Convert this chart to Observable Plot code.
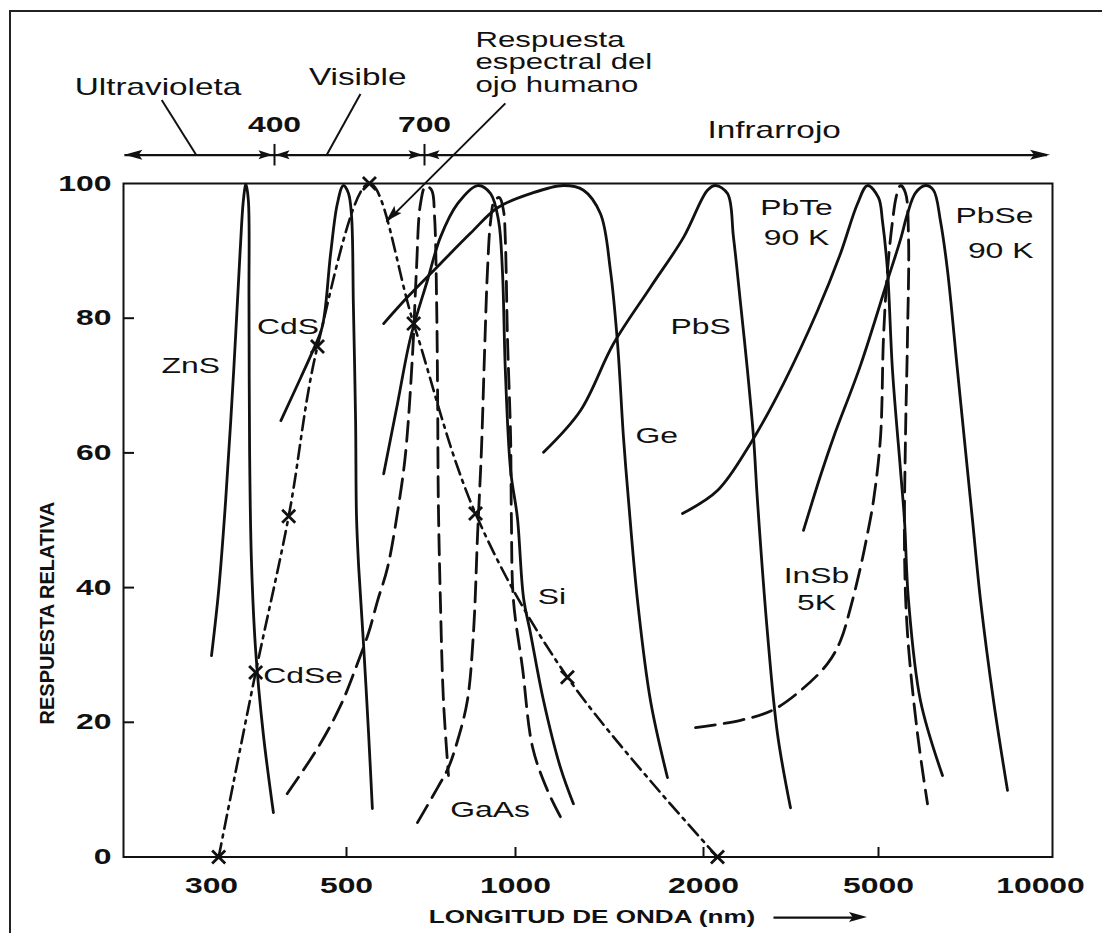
<!DOCTYPE html>
<html>
<head>
<meta charset="utf-8">
<script src="https://cdn.jsdelivr.net/npm/d3@7"></script>
<script src="https://cdn.jsdelivr.net/npm/@observablehq/plot@0.6"></script>
<style>
  html, body { margin: 0; padding: 0; background: #fff; }
  #wrap { position: relative; width: 1102px; height: 933px; overflow: hidden; background: #fff; }
  #border { position: absolute; left: 9px; top: 10px; width: 1200px; height: 1000px;
            border-left: 2px solid #222; border-top: 2px solid #222; }
  #wrap svg { position: absolute; left: 0; top: 0; }
</style>
</head>
<body>
<div id="wrap"><div id="border"></div></div>
<script>
// ---- axis definitions (wavelength in nm, relative response in %) ----
const xAnchors   = [300, 400, 500, 700, 1000, 2000, 5000, 10000];
const xPixels    = [211, 274, 346, 424, 515, 703, 878, 1040];
const xTickLabels = [300, 500, 1000, 2000, 5000, 10000];
const xTickMarks  = [500, 1000, 2000, 5000];
const yTickLabels = [0, 20, 40, 60, 80, 100];
const yTickMarks  = [20, 40, 60, 80];

// ---- detector spectral responses: [wavelength nm, relative response %] ----
const ZnS  = [[300,29.9],[310,39.6],[320,52.9],[332,72.2],[342,90.1],[347,97.5],[351,99.9],[355,97.5],[356,82.6],[357,60.4],[360,44.0],[367,30.7],[380,18.3],[398,6.6]];
const CdS  = [[408,64.8],[434,71.2],[451,75.3],[464,78.8],[476,89.6],[486,97.0],[495,99.7],[504,98.6],[511,95.2],[515,82.2],[520,64.8],[522,50.7],[527,43.0],[538,31.7],[550,18.3],[559,7.2]];
const CdSe = [[416,9.4],[458,16.3],[491,22.5],[524,28.7],[550,33.3],[572,38.1],[597,43.0],[626,52.2],[645,59.9],[665,74.8],[676,87.1],[688,97.0],[703,99.6],[720,99.0],[728,95.2],[734,82.6],[737,67.8],[739,52.9],[745,38.1],[754,23.2],[769,12.1]];
const GaAs = [[679,5.1],[737,10.3],[769,13.3],[797,17.3],[828,23.2],[848,33.2],[862,48.0],[875,60.4],[886,75.2],[896,87.1],[907,94.4],[921,97.5],[939,97.9],[954,96.0],[961,91.5],[969,77.1],[981,62.3],[984,50.4],[992,38.1],[1026,28.1],[1065,16.3],[1125,9.9],[1189,5.4]];
const Si   = [[587,56.9],[623,67.3],[659,77.1],[708,85.6],[745,92.0],[797,97.0],[862,99.7],[907,98.5],[936,94.4],[950,87.1],[961,72.2],[981,57.4],[1007,50.4],[1030,38.5],[1057,33.2],[1109,23.2],[1180,13.3],[1238,7.9]];
const Ge   = [[587,79.2],[650,83.1],[745,88.1],[838,92.6],[932,96.4],[1057,98.5],[1194,99.7],[1285,99.0],[1368,95.5],[1419,87.1],[1457,76.2],[1489,62.3],[1517,52.9],[1568,38.1],[1645,23.2],[1751,11.8]];
const PbS  = [[1109,60.1],[1271,66.3],[1435,76.2],[1645,84.6],[1858,92.0],[2042,99.0],[2130,99.7],[2268,98.5],[2340,92.0],[2428,82.2],[2518,72.2],[2599,62.3],[2653,52.9],[2796,33.2],[2946,18.3],[3154,7.3]];
const PbTe = [[1851,51.0],[2152,54.4],[2558,61.4],[3041,70.3],[3633,81.1],[4098,89.6],[4479,97.0],[4720,99.7],[5000,97.9],[5086,94.4],[5196,87.1],[5309,72.2],[5494,57.4],[5588,50.0],[5685,38.1],[5984,23.2],[6575,12.1]];
const PbSe = [[3376,48.5],[3690,56.6],[3950,62.3],[4550,73.0],[5196,85.6],[5494,91.7],[5660,95.5],[5858,98.6],[6114,99.7],[6327,99.0],[6519,94.4],[6717,87.1],[7011,72.2],[7317,57.4],[7476,50.0],[7737,38.1],[8179,23.2],[8683,9.9]];
const InSb = [[1942,19.2],[2428,20.3],[2870,21.8],[3323,24.7],[3829,28.7],[4098,32.1],[4318,37.0],[4550,43.0],[4720,48.0],[4870,52.9],[5043,62.3],[5108,77.1],[5196,87.1],[5309,94.4],[5400,98.2],[5494,99.7],[5612,98.6],[5685,92.0],[5660,77.1],[5612,62.3],[5588,45.5],[5660,33.2],[5908,18.3],[6166,7.9]];
// human eye spectral response (points marked with x)
const Eye  = [[310,0],[367,27.4],[418,50.6],[457,75.8],[552,100],[668,79.2],[855,51.0],[1211,26.7],[2152,0]];

// ---- annotations ----
const curveLabels = [
  {text:"ZnS",  x:273,  y:71.8, anchor:"middle"},
  {text:"CdS",  x:417,  y:77.7, anchor:"middle"},
  {text:"CdSe", x:380,  y:25.9, anchor:"start"},
  {text:"GaAs", x:774,  y:5.9,  anchor:"start"},
  {text:"Si",   x:1085, y:37.6, anchor:"start"},
  {text:"Ge",   x:1556, y:61.4, anchor:"start"},
  {text:"PbS",  x:1771, y:77.7, anchor:"start"},
  {text:"PbTe", x:3255, y:95.3, anchor:"middle"},
  {text:"90 K", x:3255, y:90.8, anchor:"middle"},
  {text:"InSb", x:3614, y:40.7, anchor:"middle"},
  {text:"5K",   x:3614, y:36.6, anchor:"middle"},
  {text:"PbSe", x:9705, y:94.1, anchor:"end"},
  {text:"90 K", x:9705, y:89.0, anchor:"end"}
];
const topNotes = [
  {text:"Ultravioleta",  x:160.6, y:113.1},
  {text:"Visible",       x:445,   y:114.6},
  {text:"Infrarrojo",    x:2042,  y:106.7}
];
const eyeNote = [
  {text:"Respuesta",     x:855,   y:120.3},
  {text:"espectral del", x:855,   y:117.0},
  {text:"ojo humano",    x:855,   y:113.6}
];
const bandLimits = [400, 700];
const pointers = [
  {x1:239, y1:112.4, x2:280, y2:104.2},
  {x1:531, y1:113.3, x2:470, y2:104.2},
  {x1:961, y1:111.9, x2:594, y2:94.3}
];
const xTitle = "LONGITUD DE ONDA (nm)";
const yTitle = "RESPUESTA RELATIVA";

// ---- build tables ----
const curves = [
  {name:"ZnS", pts:ZnS, dash:null}, {name:"CdS", pts:CdS, dash:null},
  {name:"Si", pts:Si, dash:null}, {name:"Ge", pts:Ge, dash:null},
  {name:"PbS", pts:PbS, dash:null}, {name:"PbTe", pts:PbTe, dash:null},
  {name:"PbSe", pts:PbSe, dash:null},
  {name:"CdSe", pts:CdSe, dash:"dash"}, {name:"GaAs", pts:GaAs, dash:"dash"},
  {name:"InSb", pts:InSb, dash:"dash"}
];
const rows = curves.flatMap(c => c.pts.map(([wl, r]) => ({name:c.name, dash:c.dash, wl, r})));
const eyeRows = Eye.map(([wl, r]) => ({wl, r}));
const ink = "#111";

const plot = Plot.plot({
  width: 1102, height: 933,
  marginLeft: 123, marginRight: 50, marginTop: 183, marginBottom: 76.5,
  style: {fontFamily: "'Liberation Sans', Arial, Helvetica, sans-serif", color: ink, background: "transparent", overflow: "visible"},
  x: {type: "log", domain: xAnchors, range: xPixels, axis: null},
  y: {domain: [0, 100], axis: null},
  marks: [
    Plot.frame({stroke: ink, strokeWidth: 2}),
    Plot.tickX(xTickMarks, {x: d => d, insetTop: 664, stroke: ink, strokeWidth: 2}),
    Plot.tickY(yTickMarks, {y: d => d, insetRight: 918, stroke: ink, strokeWidth: 2}),
    // tick labels
    Plot.text(xTickLabels, {x: d => d, frameAnchor: "bottom", dy: 20, text: d => String(d),
              textAnchor: "middle", lineAnchor: "top", fontSize: 22, fontWeight: "bold", fill: ink}),
    Plot.text(yTickLabels, {y: d => d, frameAnchor: "left", dx: -12, text: d => String(d),
              textAnchor: "end", lineAnchor: "middle", fontSize: 22, fontWeight: "bold", fill: ink}),
    // curves
    Plot.line(rows.filter(d => !d.dash), {x: "wl", y: "r", z: "name", curve: "catmull-rom",
              stroke: ink, strokeWidth: 2.8}),
    Plot.line(rows.filter(d => d.dash), {x: "wl", y: "r", z: "name", curve: "catmull-rom",
              stroke: ink, strokeWidth: 2.8, strokeDasharray: "20,9"}),
    Plot.line(eyeRows, {x: "wl", y: "r", curve: "catmull-rom", stroke: ink, strokeWidth: 2.6,
              strokeDasharray: "14,6,3,6"}),
    Plot.dot(eyeRows, {x: "wl", y: "r", symbol: "times", r: 6, stroke: ink, strokeWidth: 2.8}),
    // curve labels
    ...["start", "middle", "end"].map(a =>
      Plot.text(curveLabels.filter(d => d.anchor === a), {x: "x", y: "y", text: "text",
                textAnchor: a, lineAnchor: "bottom", fontSize: 22, fill: ink})),
    // top spectrum band annotation
    Plot.ruleY([104.2], {x1: 202, x2: 10300, stroke: ink, strokeWidth: 2.2}),
    Plot.ruleX(bandLimits, {y1: 102.6, y2: 105.8, stroke: ink, strokeWidth: 2}),
    Plot.text(bandLimits, {x: d => d, y: 107.7, text: d => String(d), textAnchor: "middle",
              lineAnchor: "bottom", fontSize: 22, fontWeight: "bold", fill: ink}),
    Plot.link(pointers, {x1: "x1", y1: "y1", x2: "x2", y2: "y2", stroke: ink, strokeWidth: 2}),
    Plot.text(topNotes, {x: "x", y: "y", text: "text", textAnchor: "start", lineAnchor: "bottom",
              fontSize: 23, fill: ink}),
    Plot.text(eyeNote, {x: "x", y: "y", text: "text", textAnchor: "start", lineAnchor: "bottom",
              fontSize: 21.5, fill: ink}),
    // axis titles
    Plot.text([xTitle], {x: 1326, y: -9.87, text: d => d, textAnchor: "middle", lineAnchor: "bottom",
              fontSize: 18, fontWeight: "bold", fill: ink}),
    Plot.link([{a: 2885, b: 4450}], {x1: "a", x2: "b", y1: -9.0, y2: -9.0, stroke: ink, strokeWidth: 2.4}),
    Plot.text([yTitle], {x: 142, y: 36.2, text: d => d, rotate: -90, textAnchor: "middle",
              lineAnchor: "middle", fontSize: 20, fontWeight: "bold", fill: ink})
  ]
});

// stretch the lettering horizontally like the scanned original
// (only the element transform is extended; Plot's own x/y/dy attributes stay untouched)
for (const t of plot.querySelectorAll("text")) {
  const tr = t.getAttribute("transform");
  if (!tr || /rotate/.test(tr)) continue;
  t.setAttribute("transform", tr + " scale(1.45,1)");
}

// filled arrow heads placed through the plot's own scales
const sx = plot.scale("x"), sy = plot.scale("y");
const P = (wl, r) => [sx.apply(wl), sy.apply(r)];
const g = d3.select(plot).append("g").attr("fill", ink).attr("stroke", "none");
function head([x, y], ang, len, hw) {
  const ca = Math.cos(ang), sa = Math.sin(ang);
  const bx = x - len * ca, by = y - len * sa;
  const nx = x - len * 0.8 * ca, ny = y - len * 0.8 * sa;
  g.append("path").attr("d",
    `M${x},${y}L${bx - sa * hw},${by + ca * hw}L${nx},${ny}L${bx + sa * hw},${by - ca * hw}Z`);
}
head(P(202, 104.2), Math.PI, 18, 5);
head(P(10438, 104.2), 0, 20, 5);
for (const b of bandLimits) {
  const [bx, by] = P(b, 104.2);
  head([bx - 1.5, by], 0, 14, 4.5);
  head([bx + 1.5, by], Math.PI, 14, 4.5);
}
{
  const p = pointers[2];
  const a = P(p.x1, p.y1), b = P(p.x2, p.y2);
  head(b, Math.atan2(b[1] - a[1], b[0] - a[0]), 17, 5);
}
head(P(4720, -9.0), 0, 18, 5);

document.getElementById("wrap").appendChild(plot);
</script>
</body>
</html>
